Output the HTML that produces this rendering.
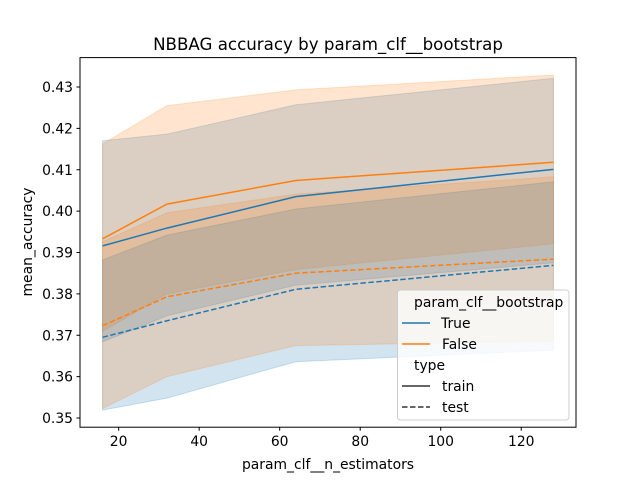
<!DOCTYPE html>
<html><head><meta charset="utf-8"><style>
body{margin:0;background:#fff;}
svg{font-family:"DejaVu Sans","Liberation Sans",sans-serif;}
</style></head><body>
<svg id="chart" width="640" height="480" viewBox="0 0 640 480">
<rect width="640" height="480" fill="#fff"/>
<text x="328" y="50" text-anchor="middle" font-size="16.67">NBBAG accuracy by param_clf__bootstrap</text>
<g id="bands"></g><g id="lines"></g>
<rect x="80" y="57.6" width="496" height="369.6" fill="none" stroke="#000" stroke-width="1"/>
<g id="axes" font-size="13.9"></g>
<text x="328" y="469" text-anchor="middle" font-size="13.9">param_clf__n_estimators</text>
<text transform="translate(32,242) rotate(-90)" text-anchor="middle" font-size="13.9">mean_accuracy</text>
<g font-size="13.9">
<rect x="397.5" y="290" width="171.5" height="130" rx="3" fill="#fff" fill-opacity="0.8" stroke="#ccc"/>
<text x="414" y="307">param_clf__bootstrap</text>
<line x1="402" y1="323" x2="430" y2="323" stroke="#1f77b4" stroke-width="1.5"/>
<text x="441" y="328">True</text>
<line x1="402" y1="344" x2="430" y2="344" stroke="#ff7f0e" stroke-width="1.5"/>
<text x="442" y="349">False</text>
<text x="414" y="370">type</text>
<line x1="402" y1="386" x2="430" y2="386" stroke="#333" stroke-width="1.5"/>
<text x="442" y="391">train</text>
<line x1="402" y1="407" x2="430" y2="407" stroke="#333" stroke-width="1.5" stroke-dasharray="5.5,2.5"/>
<text x="442" y="412">test</text>
</g>
</svg>
<script>
const xs = [16, 32, 64, 128];
const trueTrain = [0.3916, 0.3959, 0.4035, 0.4101];
const falseTrain = [0.3933, 0.4017, 0.4074, 0.4118];
const trueTest = [0.3695, 0.3735, 0.3811, 0.3869];
const falseTest = [0.3723, 0.3793, 0.3850, 0.3884];
const trueTrainHi = [0.4170, 0.4186, 0.4257, 0.4321];
const trueTrainLo = [0.3684, 0.3747, 0.3821, 0.3875];
const falseTrainHi = [0.4162, 0.4255, 0.4293, 0.4329];
const falseTrainLo = [0.3709, 0.3800, 0.3859, 0.3921];
const trueTestHi = [0.3882, 0.3942, 0.4005, 0.4071];
const trueTestLo = [0.3519, 0.3548, 0.3636, 0.3664];
const falseTestHi = [0.3926, 0.3996, 0.4041, 0.4083];
const falseTestLo = [0.3523, 0.3600, 0.3675, 0.3686];
const xTicks = [20, 40, 60, 80, 100, 120];
const yTicks = [0.35, 0.36, 0.37, 0.38, 0.39, 0.40, 0.41, 0.42, 0.43];

const X = v => 80 + (v - 10.4) / (133.6 - 10.4) * 496;
const Y = v => 418 - (v - 0.35) * 4137.5;
const NS = 'http://www.w3.org/2000/svg';
function mk(tag, attrs, parent) {
  const e = document.createElementNS(NS, tag);
  for (const k in attrs) e.setAttribute(k, attrs[k]);
  document.getElementById(parent).appendChild(e);
  return e;
}
const bands = [[trueTrainHi, trueTrainLo, '#1f77b4', 'band-true-train'],
  [falseTrainHi, falseTrainLo, '#ff7f0e', 'band-false-train'],
  [trueTestHi, trueTestLo, '#1f77b4', 'band-true-test'],
  [falseTestHi, falseTestLo, '#ff7f0e', 'band-false-test']];
bands.forEach(b => {
  let pts = xs.map((x, i) => X(x) + ',' + Y(b[0][i]));
  pts = pts.concat(xs.map((x, i) => X(x) + ',' + Y(b[1][i])).reverse());
  const el = mk('polygon', {points: pts.join(' '), fill: b[2], 'fill-opacity': 0.2, stroke: b[2], 'stroke-opacity': 0.2}, 'bands');
  
  
});
const lines = [[trueTrain, '#1f77b4', '', 'line-true-train'],
  [falseTrain, '#ff7f0e', '', 'line-false-train'],
  [trueTest, '#1f77b4', '5.5,2.5', 'line-true-test'],
  [falseTest, '#ff7f0e', '5.5,2.5', 'line-false-test']];
lines.forEach(l => {
  const el = mk('polyline', {points: xs.map((x, i) => X(x) + ',' + Y(l[0][i])).join(' '), fill: 'none', stroke: l[1], 'stroke-width': 1.5, 'stroke-dasharray': l[2] || 'none'}, 'lines');
  
  
});
xTicks.forEach(t => {
  const tk = mk('line', {x1: X(t), x2: X(t), y1: 427.2, y2: 430.7, stroke: '#000'}, 'axes');
  
  
  const tx = mk('text', {x: X(t), y: 446, 'text-anchor': 'middle'}, 'axes');
  tx.textContent = t;
  
  
});
yTicks.forEach(t => {
  const tk = mk('line', {x1: 76.5, x2: 80, y1: Y(t), y2: Y(t), stroke: '#000'}, 'axes');
  
  
  const tx = mk('text', {x: 73, y: Y(t) + 5, 'text-anchor': 'end'}, 'axes');
  tx.textContent = t.toFixed(2);
  
  
});
</script>
</body></html>
